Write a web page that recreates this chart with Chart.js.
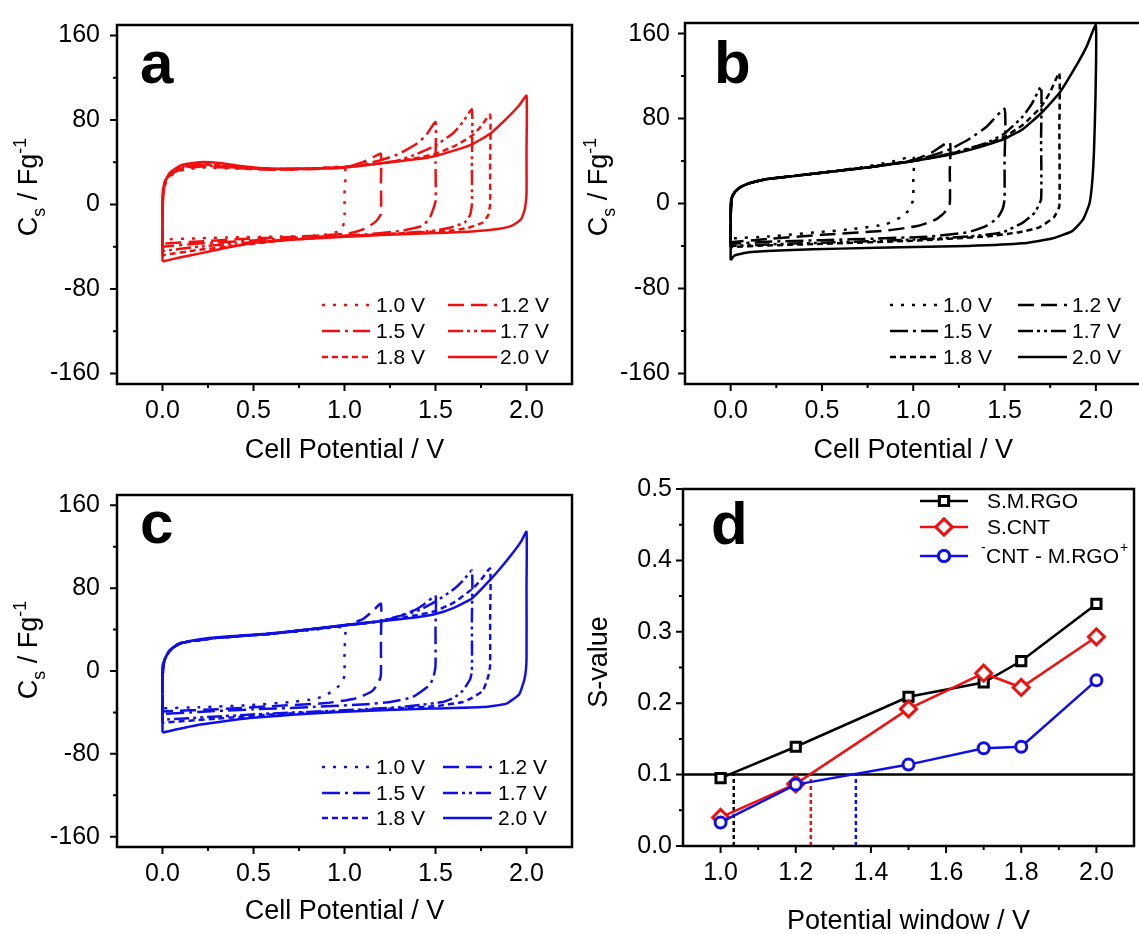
<!DOCTYPE html>
<html>
<head>
<meta charset="utf-8">
<title>CV curves and S-value</title>
<script src="https://cdn.jsdelivr.net/npm/chart.js@4.4.1/dist/chart.umd.min.js"></script>
<style>
  html, body { margin: 0; padding: 0; background: #fff; overflow: hidden; }
  body { position: relative; width: 1139px; height: 934px; }
  canvas { position: absolute; }
</style>
</head>
<body>
<canvas id="panelA" width="575" height="470" style="left:0;top:0"></canvas>
<canvas id="panelB" width="570" height="470" style="left:575px;top:0"></canvas>
<canvas id="panelC" width="575" height="464" style="left:0;top:470px"></canvas>
<canvas id="panelD" width="570" height="464" style="left:575px;top:470px"></canvas>
<script>
// ---- axis ticks ----
const voltTicks = [0, 0.5, 1.0, 1.5, 2.0];
const voltMinor = [0.25, 0.75, 1.25, 1.75];
const csTicks = [-160, -80, 0, 80, 160];
const csMinor = [-120, -40, 40, 120];
const windowTicks = [1.0, 1.2, 1.4, 1.6, 1.8, 2.0];
const windowMinor = [1.1, 1.3, 1.5, 1.7, 1.9];
const sTicks = [0, 0.1, 0.2, 0.3, 0.4, 0.5];
const sMinor = [0.05, 0.15, 0.25, 0.35, 0.45];

const sweepLabels = ['1.0 V', '1.2 V', '1.5 V', '1.7 V', '1.8 V', '2.0 V'];
const sweepDash = [[3, 8], [16, 7], [18, 5, 3, 5], [15, 4, 3, 4, 3, 4], [6, 4], []];

// ---- panel a: [cell potential V, Cs F/g] around each loop ----
const a10 = [[0,-33],[0,-10],[0.005,12],[0.02,22],[0.06,29],[0.12,33],[0.22,35],[0.4,34],[0.6,33],[0.8,33.5],[1.0,35],[1.0,10],[1.0,-15],[0.99,-21],[0.97,-25],[0.92,-28],[0.8,-30],[0.6,-30.5],[0.4,-31],[0.2,-32],[0,-33]];
const a12 = [[0,-37],[0,-10],[0.005,12],[0.02,22],[0.06,30],[0.12,34],[0.22,36],[0.4,34.5],[0.6,33],[0.8,33.5],[1.0,35],[1.1,40],[1.16,45],[1.2,48],[1.2,20],[1.2,-9],[1.17,-16.5],[1.11,-23],[1.02,-27.5],[0.85,-29.5],[0.6,-31.5],[0.4,-33],[0.2,-35],[0,-37]];
const a15 = [[0,-40],[0,-10],[0.005,14],[0.02,24],[0.06,31],[0.12,35],[0.22,37],[0.4,35],[0.6,33.5],[0.8,34],[1.0,35.5],[1.1,38],[1.2,42],[1.3,48],[1.4,58],[1.45,66],[1.5,78],[1.5,40],[1.5,3],[1.47,-12],[1.43,-20],[1.31,-25],[1.1,-28.5],[0.8,-31],[0.5,-34],[0.2,-37],[0,-40]];
const a17 = [[0,-44],[0,-12],[0.005,14],[0.02,24],[0.06,31],[0.12,36],[0.22,38],[0.4,35.5],[0.6,33.5],[0.8,34],[1.0,35.5],[1.2,39],[1.3,42],[1.4,48],[1.5,56],[1.6,68],[1.65,78],[1.7,90],[1.7,40],[1.7,0],[1.69,-10],[1.66,-17],[1.59,-21.5],[1.5,-24.5],[1.3,-27.5],[1.0,-30],[0.7,-33],[0.4,-37],[0.2,-40],[0,-44]];
const a18 = [[0,-48],[0,-14],[0.005,15],[0.02,25],[0.06,32],[0.12,36],[0.22,38.5],[0.4,35.5],[0.6,33.5],[0.8,34],[1.0,35.5],[1.2,39],[1.4,44],[1.5,48],[1.6,55],[1.7,65],[1.75,74],[1.8,85],[1.8,40],[1.8,0],[1.79,-10],[1.76,-17],[1.68,-22],[1.6,-24.5],[1.4,-26.5],[1.0,-30],[0.7,-33.5],[0.4,-39],[0.2,-43],[0,-48]];
const a20 = [[0,-54],[0,-25],[0,8],[0.01,20],[0.04,30],[0.1,37],[0.2,40],[0.3,39.5],[0.45,36],[0.6,34],[0.8,34],[1.0,35],[1.2,39],[1.4,43],[1.5,46],[1.6,51],[1.7,57],[1.8,67],[1.9,83],[1.96,94],[2.0,103],[2.0,50],[2.0,10],[1.99,-5],[1.97,-14],[1.92,-20],[1.85,-23],[1.7,-25.5],[1.5,-27],[1.2,-29],[1.0,-30.5],[0.75,-33],[0.5,-36.5],[0.35,-41],[0.2,-46.5],[0.1,-50],[0,-54]];

// ---- panel b ----
const b10 = [[0,-33],[0,-12],[0.005,4],[0.02,10],[0.05,15],[0.1,19],[0.2,23],[0.35,26],[0.5,29],[0.75,35],[0.9,40],[1.0,44],[1.0,20],[1.0,4],[0.98,-5.5],[0.94,-12],[0.85,-19.5],[0.67,-24],[0.48,-27],[0.21,-31],[0,-33]];
const b12 = [[0,-36.5],[0,-12],[0.005,4],[0.02,10],[0.05,15],[0.1,19],[0.2,23],[0.35,26],[0.5,29],[0.75,34],[1.0,41],[1.1,48],[1.2,58],[1.2,30],[1.2,0],[1.17,-8.7],[1.125,-15],[1.03,-21],[0.85,-25.5],[0.5,-29.5],[0.2,-33.5],[0,-36.5]];
const b15 = [[0,-38],[0,-14],[0.005,4],[0.02,10],[0.05,15],[0.1,19],[0.2,23],[0.35,26],[0.5,29],[0.75,34],[1.0,40],[1.1,45],[1.2,51],[1.3,60],[1.4,72],[1.5,89],[1.5,40],[1.5,4],[1.49,-5],[1.46,-14],[1.4,-21],[1.3,-27],[1.1,-31],[0.8,-33],[0.5,-34.5],[0.2,-36],[0,-38]];
const b17 = [[0,-40],[0,-14],[0.005,4],[0.02,10],[0.05,15],[0.1,19],[0.2,23],[0.35,26],[0.5,29],[0.75,34],[1.0,40],[1.2,47],[1.4,57],[1.5,66],[1.6,82],[1.65,94],[1.7,110],[1.7,60],[1.7,4],[1.665,-8.7],[1.6,-18],[1.49,-27],[1.31,-31],[1.0,-34],[0.5,-37],[0.2,-38.5],[0,-40]];
const b18 = [[0,-41],[0,-15],[0.005,4],[0.02,10],[0.05,15],[0.1,19],[0.2,23],[0.35,26],[0.5,29],[0.75,34],[1.0,40],[1.2,46.5],[1.4,56],[1.5,63],[1.6,74],[1.7,91],[1.75,105],[1.8,123],[1.8,70],[1.8,-2.5],[1.77,-13],[1.69,-22.5],[1.58,-27],[1.4,-31],[1.0,-35],[0.5,-38],[0.2,-39.5],[0,-41]];
const b20 = [[0,-53.5],[0,-25],[0,0],[0.01,8],[0.03,12],[0.06,16],[0.1,19],[0.2,23],[0.35,26],[0.5,29],[0.75,34],[1.0,40],[1.2,46],[1.3,50],[1.4,55],[1.5,61],[1.6,70],[1.7,85],[1.8,104],[1.9,132],[1.95,148],[2.0,168],[1.998,100],[1.99,50],[1.98,20],[1.965,0],[1.93,-15],[1.87,-26],[1.76,-33],[1.6,-37.5],[1.3,-40],[1.0,-41],[0.6,-42.5],[0.3,-44],[0.1,-46],[0.02,-49],[0,-53.5]];

// ---- panel c ----
const c10 = [[0,-36],[0,-5],[0.01,10],[0.04,20],[0.1,27],[0.3,32],[0.6,36],[0.8,39],[1.0,42],[1.0,20],[1.0,-4],[0.99,-10],[0.96,-16],[0.9,-23],[0.84,-27],[0.7,-30],[0.48,-33],[0.2,-35],[0,-36]];
const c12 = [[0,-39],[0,-5],[0.01,10],[0.04,20],[0.1,27],[0.3,32],[0.6,36],[0.8,40],[1.0,44],[1.1,50],[1.15,57],[1.2,65],[1.2,30],[1.2,-4],[1.19,-10],[1.155,-19],[1.1,-24],[1.05,-27],[0.9,-31],[0.6,-34],[0.3,-37],[0,-39]];
const c15 = [[0,-41.5],[0,-5],[0.01,10],[0.04,20],[0.1,27],[0.3,32],[0.6,36],[0.8,40],[1.0,44],[1.2,48],[1.3,53],[1.4,60],[1.45,66],[1.5,73],[1.5,40],[1.5,5],[1.49,-5],[1.47,-13],[1.42,-20],[1.37,-25.5],[1.25,-30],[1.12,-32],[0.8,-35],[0.5,-37],[0.2,-39.5],[0,-41.5]];
const c17 = [[0,-47],[0,-8],[0.01,10],[0.04,20],[0.1,27],[0.3,32],[0.6,36],[0.8,40],[1.0,44],[1.2,48.5],[1.3,53],[1.4,58],[1.5,67],[1.6,79],[1.65,87],[1.7,97],[1.7,50],[1.7,0],[1.69,-8],[1.65,-19],[1.6,-26],[1.54,-30],[1.4,-33],[1.3,-35],[1.0,-38],[0.6,-41],[0.3,-44],[0,-47]];
const c18 = [[0,-50],[0,-8],[0.01,10],[0.04,20],[0.1,27],[0.3,32],[0.6,36],[0.8,40],[1.0,44],[1.2,48],[1.4,54],[1.5,58],[1.6,66],[1.7,79],[1.75,88],[1.8,99],[1.8,50],[1.8,5],[1.79,-5],[1.76,-19],[1.7,-26],[1.65,-30],[1.5,-34],[1.3,-36],[1.0,-38.5],[0.6,-42],[0.3,-46],[0,-50]];
const c20 = [[0,-59.5],[0,-30],[0,5],[0.02,14.5],[0.05,21],[0.08,25],[0.15,29],[0.3,32.5],[0.57,36],[0.8,40],[1.0,44.5],[1.2,48],[1.4,52],[1.5,55],[1.6,61],[1.7,70],[1.8,88],[1.86,100],[1.92,113],[1.97,125],[2.0,134.5],[2.0,80],[2.0,11],[1.99,-7],[1.96,-22.5],[1.89,-31.5],[1.76,-34.8],[1.48,-36.3],[1.0,-39.4],[0.48,-45.5],[0.2,-52],[0,-59.5]];

// ---- panel d: S-value vs potential window ----
const windowV = [1.0, 1.2, 1.5, 1.7, 1.8, 2.0];
const sSMRGO = [0.095, 0.139, 0.209, 0.229, 0.259, 0.339];
const sSCNT = [0.040, 0.087, 0.192, 0.242, 0.222, 0.293];
const sHybrid = [0.033, 0.086, 0.114, 0.137, 0.139, 0.232];
const sLimit = 0.1;
const crossV = [1.035, 1.24, 1.36]; // S.M.RGO, S.CNT, hybrid

const FONT = '"Liberation Sans", Arial, sans-serif';
Chart.defaults.font.family = FONT;
Chart.defaults.color = '#000';

function richText(ctx, parts, size) {
  // parts: [text, 0 normal | 1 sub | 2 sup], drawn centred on x = 0
  const w = parts.map(([t, k]) => {
    ctx.font = (k ? size * 0.66 : size) + 'px ' + FONT;
    return ctx.measureText(t).width;
  });
  let x = -w.reduce((s, v) => s + v, 0) / 2;
  parts.forEach(([t, k], i) => {
    ctx.font = (k ? size * 0.66 : size) + 'px ' + FONT;
    const dy = k === 1 ? size * 0.28 : k === 2 ? -size * 0.42 : 0;
    ctx.fillText(t, x, dy);
    x += w[i];
  });
}

const decor = {
  id: 'decor',
  afterDraw(chart, args, o) {
    const ctx = chart.ctx, a = chart.chartArea;
    const xs = chart.scales.x, ys = chart.scales.y;
    ctx.save();
    ctx.setLineDash([]);
    ctx.strokeStyle = '#000';
    ctx.lineWidth = 2.5;
    ctx.strokeRect(a.left, a.top, a.right - a.left, a.bottom - a.top);
    ctx.lineWidth = 2;
    ctx.beginPath();
    const tick = (vals, len, isX) => vals.forEach(v => {
      if (isX) { const p = xs.getPixelForValue(v); ctx.moveTo(p, a.bottom); ctx.lineTo(p, a.bottom + len); }
      else { const p = ys.getPixelForValue(v); ctx.moveTo(a.left, p); ctx.lineTo(a.left - len, p); }
    });
    tick(o.xMajor, 7, true); tick(o.xMinor, 4, true);
    tick(o.yMajor, 7, false); tick(o.yMinor, 4, false);
    ctx.stroke();

    ctx.fillStyle = '#000';
    ctx.textAlign = 'left';
    ctx.textBaseline = 'alphabetic';
    ctx.font = 'bold 60px ' + FONT;
    ctx.fillText(o.letter[0], o.letter[1], o.letter[2]);

    ctx.save();
    ctx.translate((a.left + a.right) / 2, o.xTitleY);
    richText(ctx, o.xTitle, 27);
    ctx.restore();
    ctx.save();
    ctx.translate(o.yTitlePos[0], o.yTitlePos[1]);
    ctx.rotate(-Math.PI / 2);
    richText(ctx, o.yTitle, 27);
    ctx.restore();

    if (o.legend) o.legend(ctx, chart);
    ctx.restore();
  }
};

function cvLegend(color, rows, cols) {
  return (ctx, chart) => {
    ctx.font = '21px ' + FONT;
    ctx.textBaseline = 'middle';
    ctx.lineWidth = 2.5;
    chart.data.datasets.forEach((ds, i) => {
      const y = rows[Math.floor(i / 2)], c = cols[i % 2];
      ctx.strokeStyle = color;
      ctx.setLineDash(ds.borderDash);
      ctx.beginPath(); ctx.moveTo(c[0], y); ctx.lineTo(c[1], y); ctx.stroke();
      ctx.setLineDash([]);
      ctx.fillStyle = '#000';
      ctx.fillText(ds.label, c[2], y + 1);
    });
  };
}

function cvChart(id, color, loops, g) {
  return new Chart(document.getElementById(id), {
    type: 'scatter',
    data: {
      datasets: loops.map((loop, i) => ({
        label: sweepLabels[i],
        data: loop.map(([x, y]) => ({ x, y })),
        showLine: true,
        borderColor: color,
        borderWidth: 2.5,
        borderDash: sweepDash[i],
        pointRadius: 0,
        tension: 0.15
      }))
    },
    options: {
      responsive: false,
      animation: false,
      layout: { padding: g.pad },
      plugins: {
        legend: { display: false },
        tooltip: { enabled: false },
        decor: {
          xMajor: voltTicks, xMinor: voltMinor, yMajor: csTicks, yMinor: csMinor,
          letter: g.letter,
          xTitle: [['Cell Potential / V', 0]], xTitleY: g.xTitleY,
          yTitle: [['C', 0], ['s', 1], [' / Fg', 0], ['-1', 2]], yTitlePos: g.yTitlePos,
          legend: cvLegend(color, g.legRows, g.legCols)
        }
      },
      scales: {
        x: {
          type: 'linear', min: -0.25, max: 2.25,
          afterBuildTicks: s => { s.ticks = voltTicks.map(v => ({ value: v })); },
          afterFit: s => { s.height = g.xh; },
          grid: { display: false, drawTicks: true, tickLength: 7 },
          border: { display: false },
          ticks: { font: { size: 25 }, padding: 5, autoSkip: false, maxRotation: 0, callback: v => v.toFixed(1) }
        },
        y: {
          type: 'linear', min: -170, max: 170,
          afterBuildTicks: s => { s.ticks = csTicks.map(v => ({ value: v })); },
          afterFit: s => { s.width = g.yw; },
          grid: { display: false, drawTicks: true, tickLength: 7 },
          border: { display: false },
          ticks: { font: { size: 25 }, padding: g.ypad, autoSkip: false, callback: v => String(v) }
        }
      }
    },
    plugins: [decor]
  });
}

cvChart('panelA', '#f01010', [a10, a12, a15, a17, a18, a20], {
  pad: { top: 17, right: 3, left: 0, bottom: 0 }, xh: 86, yw: 117, ypad: 10,
  letter: ['a', 140, 83], xTitleY: 458, yTitlePos: [37, 187],
  legRows: [305, 331, 357], legCols: [[322, 370, 376], [448, 497, 500]]
});
cvChart('panelB', '#000000', [b10, b12, b15, b17, b18, b20], {
  pad: { top: 17, right: 3.5, left: 0, bottom: 0 }, xh: 86, yw: 110, ypad: 8,
  letter: ['b', 139, 83], xTitleY: 458, yTitlePos: [32, 187],
  legRows: [305, 331, 357], legCols: [[315, 363, 368], [443, 492, 497]]
});
cvChart('panelC', '#1010e6', [c10, c12, c15, c17, c18, c20], {
  pad: { top: 8, right: 3, left: 0, bottom: 0 }, xh: 87, yw: 117, ypad: 10,
  letter: ['c', 140, 73], xTitleY: 449, yTitlePos: [37, 180],
  legRows: [297, 323, 348], legCols: [[322, 370, 376], [443, 492, 498]]
});

// ---- panel d ----
const dSeries = [
  { label: 'S.M.RGO', vals: sSMRGO, color: '#000000', style: 'rect', r: 6.5, order: 3 },
  { label: 'S.CNT', vals: sSCNT, color: '#f01010', style: 'rectRot', r: 8, order: 2 },
  { label: 'CNT - M.RGO', vals: sHybrid, color: '#1010e6', style: 'circle', r: 5.5, order: 1 }
];
const crossColors = ['#000000', '#f01010', '#1010e6'];

new Chart(document.getElementById('panelD'), {
  type: 'scatter',
  data: {
    datasets: [
      ...dSeries.map(s => ({
        label: s.label,
        data: windowV.map((x, i) => ({ x, y: s.vals[i] })),
        showLine: true, borderColor: s.color, borderWidth: 2.5,
        pointStyle: s.style, pointRadius: s.r, pointBorderWidth: 3,
        pointBackgroundColor: '#fff', pointBorderColor: s.color, order: s.order
      })),
      {
        label: 'limit', data: [{ x: 0.9, y: sLimit }, { x: 2.1, y: sLimit }],
        showLine: true, borderColor: '#000', borderWidth: 2.5, pointRadius: 0, order: 4
      },
      ...crossV.map((v, i) => ({
        label: 'cross' + i, data: [{ x: v, y: 0 }, { x: v, y: sLimit }],
        showLine: true, borderColor: crossColors[i], borderWidth: 2.5, borderDash: [4, 3], pointRadius: 0, order: 5
      }))
    ]
  },
  options: {
    responsive: false,
    animation: false,
    layout: { padding: { top: 8, right: 5, left: 0, bottom: 0 } },
    plugins: {
      legend: { display: false },
      tooltip: { enabled: false },
      decor: {
        xMajor: windowTicks, xMinor: windowMinor, yMajor: sTicks, yMinor: sMinor,
        letter: ['d', 136, 74],
        xTitle: [['Potential window / V', 0]], xTitleY: 459,
        yTitle: [['S-value', 0]], yTitlePos: [32, 192],
        legend: (ctx, chart) => {
          const rows = [31, 57, 86];
          ctx.textBaseline = 'middle';
          dSeries.forEach((s, i) => {
            const y = rows[i];
            ctx.setLineDash([]);
            ctx.strokeStyle = s.color; ctx.lineWidth = 2.5;
            ctx.beginPath(); ctx.moveTo(345, y); ctx.lineTo(393, y); ctx.stroke();
            ctx.fillStyle = '#fff'; ctx.lineWidth = 3;
            Chart.helpers.drawPoint(ctx, { pointStyle: s.style, radius: s.r, borderWidth: 3 }, 369, y);
            ctx.fill(); ctx.stroke();
            ctx.fillStyle = '#000';
            ctx.font = '21px ' + FONT;
            if (i < 2) ctx.fillText(s.label, 412, y + 1);
            else {
              ctx.font = '14px ' + FONT; ctx.fillText('-', 406, y - 8);
              ctx.font = '21px ' + FONT; ctx.fillText(s.label, 411, y + 1);
              const w = ctx.measureText(s.label).width;
              ctx.font = '14px ' + FONT; ctx.fillText('+', 412 + w, y - 8);
            }
          });
        }
      }
    },
    scales: {
      x: {
        type: 'linear', min: 0.9, max: 2.1,
        afterBuildTicks: s => { s.ticks = windowTicks.map(v => ({ value: v })); },
        afterFit: s => { s.height = 88; },
        grid: { display: false, drawTicks: true, tickLength: 7 },
        border: { display: false },
        ticks: { font: { size: 25 }, padding: 5, autoSkip: false, maxRotation: 0, callback: v => v.toFixed(1) }
      },
      y: {
        type: 'linear', min: 0, max: 0.5,
        afterBuildTicks: s => { s.ticks = sTicks.map(v => ({ value: v })); },
        afterFit: s => { s.width = 108; },
        grid: { display: false, drawTicks: true, tickLength: 7 },
        border: { display: false },
        ticks: { font: { size: 25 }, padding: 4, autoSkip: false, callback: v => v.toFixed(1) }
      }
    }
  },
  plugins: [decor]
});
</script>
</body>
</html>
